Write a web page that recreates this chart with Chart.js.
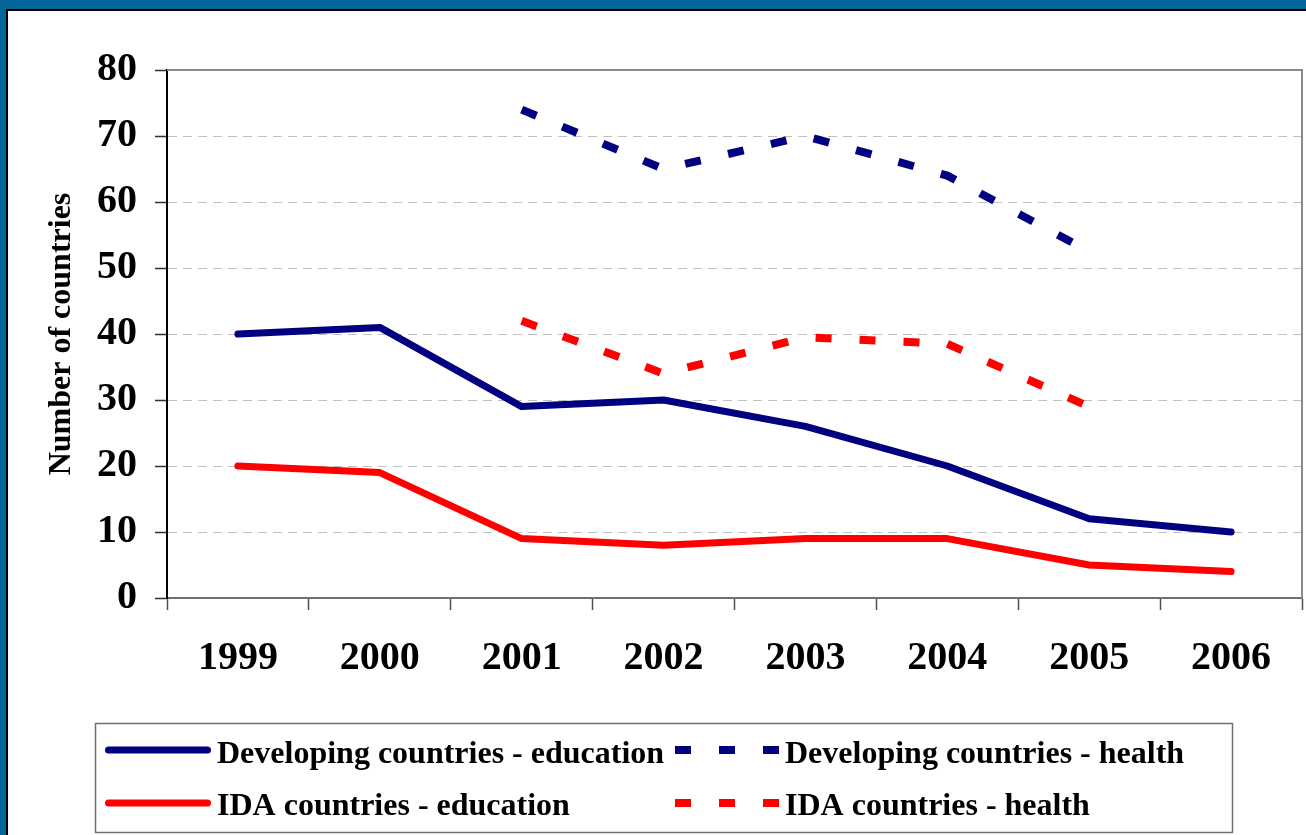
<!DOCTYPE html>
<html>
<head>
<meta charset="utf-8">
<script src="https://cdn.jsdelivr.net/npm/chart.js@4/dist/chart.umd.min.js"></script>
<style>
html,body{margin:0;padding:0;background:#fff;overflow:hidden;}
#wrap{width:1306px;height:835px;position:relative;}
canvas{display:block;}
</style>
</head>
<body>
<div id="wrap"><canvas id="c" width="1306" height="835"></canvas></div>
<script>
// ---- data ----
const years = ['1999','2000','2001','2002','2003','2004','2005','2006'];
const devEducation = [40, 41, 29, 30, 26, 20, 12, 10];
const devHealth    = [null, null, 74, 65, 70, 64, 52.5, null];
const idaEducation = [20, 19, 9, 8, 9, 9, 5, 4];
const idaHealth    = [null, null, 42, 34, 39.5, 38.5, 29, null];
const seriesNames  = [
  'Developing countries - education',
  'Developing countries - health',
  'IDA countries - education',
  'IDA countries - health'
];
const yAxisTitle = 'Number of countries';
const yMin = 0, yMax = 80, yStep = 10;

const NAVY = '#000080';
const RED = '#FF0000';
const FONT = "'Liberation Serif', 'Times New Roman', serif";

const framePlugin = {
  id: 'frame',
  beforeDraw(chart) {
    const ctx = chart.ctx;
    const W = chart.width, H = chart.height;
    ctx.save();
    ctx.fillStyle = '#ffffff';
    ctx.fillRect(0, 0, W, H);
    ctx.fillStyle = '#03669B';
    ctx.fillRect(0, 0, W, 9);
    ctx.fillRect(0, 0, 6, H);
    ctx.fillStyle = '#000000';
    ctx.fillRect(6, 9, W - 6, 2);
    ctx.fillRect(6, 9, 2, H - 9);
    ctx.restore();
  },
  afterDatasetsDraw(chart) {
    const ctx = chart.ctx;
    const a = chart.chartArea;
    ctx.save();
    ctx.strokeStyle = '#8a8a8a';
    ctx.lineWidth = 2;
    ctx.beginPath();
    ctx.moveTo(a.left, a.top);
    ctx.lineTo(a.right, a.top);
    ctx.lineTo(a.right, a.bottom);
    ctx.stroke();
    ctx.restore();
  }
};

const legendPlugin = {
  id: 'boxLegend',
  afterDraw(chart) {
    const ctx = chart.ctx;
    const ds = chart.data.datasets;
    ctx.save();
    ctx.strokeStyle = '#707070';
    ctx.lineWidth = 1.5;
    ctx.strokeRect(95.5, 723.5, 1137, 109);
    const cols = [{x0: 105, x1: 211, tx: 217}, {x0: 675, x1: 779, tx: 785}];
    const rows = [{ly: 750, ty: 763}, {ly: 803, ty: 815}];
    ds.forEach((d, i) => {
      const c = cols[i % 2], r = rows[Math.floor(i / 2)];
      ctx.strokeStyle = d.borderColor;
      ctx.lineWidth = d.borderWidth;
      ctx.beginPath();
      if (d.borderDash && d.borderDash.length) {
        ctx.setLineDash(d.borderDash);
        ctx.lineCap = 'butt';
        ctx.moveTo(c.x0, r.ly);
        ctx.lineTo(c.x1, r.ly);
      } else {
        ctx.setLineDash([]);
        ctx.lineCap = 'round';
        ctx.moveTo(c.x0 + 3.5, r.ly);
        ctx.lineTo(c.x1 - 3.5, r.ly);
      }
      ctx.stroke();
      ctx.setLineDash([]);
      ctx.fillStyle = '#000';
      ctx.font = 'bold 32px ' + FONT;
      ctx.textBaseline = 'alphabetic';
      ctx.textAlign = 'left';
      ctx.fillText(d.label, c.tx, r.ty);
    });
    ctx.restore();
  }
};

const solid = (label, data, color) => ({
  label, data, borderColor: color, backgroundColor: color,
  borderWidth: 7, pointRadius: 0, pointHoverRadius: 0, tension: 0,
  borderCapStyle: 'round', borderJoinStyle: 'round', spanGaps: false, fill: false
});
const dashed = (label, data, color) => ({
  label, data, borderColor: color, backgroundColor: color,
  borderWidth: 8, pointRadius: 0, pointHoverRadius: 0, tension: 0,
  borderDash: [16, 28], borderCapStyle: 'butt', borderJoinStyle: 'miter', spanGaps: false, fill: false
});

new Chart(document.getElementById('c'), {
  type: 'line',
  data: {
    labels: years,
    datasets: [
      solid(seriesNames[0], devEducation, NAVY),
      dashed(seriesNames[1], devHealth, NAVY),
      solid(seriesNames[2], idaEducation, RED),
      dashed(seriesNames[3], idaHealth, RED)
    ]
  },
  options: {
    responsive: false,
    animation: false,
    events: [],
    layout: { padding: { left: 8, top: 70, right: 4, bottom: 0 } },
    plugins: { legend: { display: false }, tooltip: { enabled: false }, title: { display: false } },
    scales: {
      x: {
        type: 'category',
        offset: true,
        afterFit(scale) { scale.height = 237; },
        grid: {
          display: true, offset: true, drawOnChartArea: false, drawTicks: true,
          tickLength: 12, tickColor: '#505050', tickWidth: 1.5
        },
        border: { display: true, color: '#707070', width: 2 },
        ticks: {
          color: '#000', padding: 25, maxRotation: 0, autoSkip: false,
          font: { family: FONT, size: 40, weight: 'bold' }
        }
      },
      y: {
        min: yMin, max: yMax,
        afterFit(scale) { scale.width = 159; },
        grid: {
          display: true, drawOnChartArea: true, drawTicks: true, tickLength: 12,
          color: '#c0c0c0', lineWidth: 1,
          tickColor: '#303030', tickWidth: 1.5, tickBorderDash: [1, 0]
        },
        border: { display: true, color: '#000000', width: 2, dash: [9, 6] },
        ticks: {
          stepSize: yStep, color: '#000', padding: 18,
          font: { family: FONT, size: 40, weight: 'bold' }
        },
        title: {
          display: true, text: yAxisTitle, color: '#000',
          font: { family: FONT, size: 32, weight: 'bold' },
          padding: { top: 35, bottom: 0 }
        }
      }
    }
  },
  plugins: [framePlugin, legendPlugin]
});
</script>
</body>
</html>
